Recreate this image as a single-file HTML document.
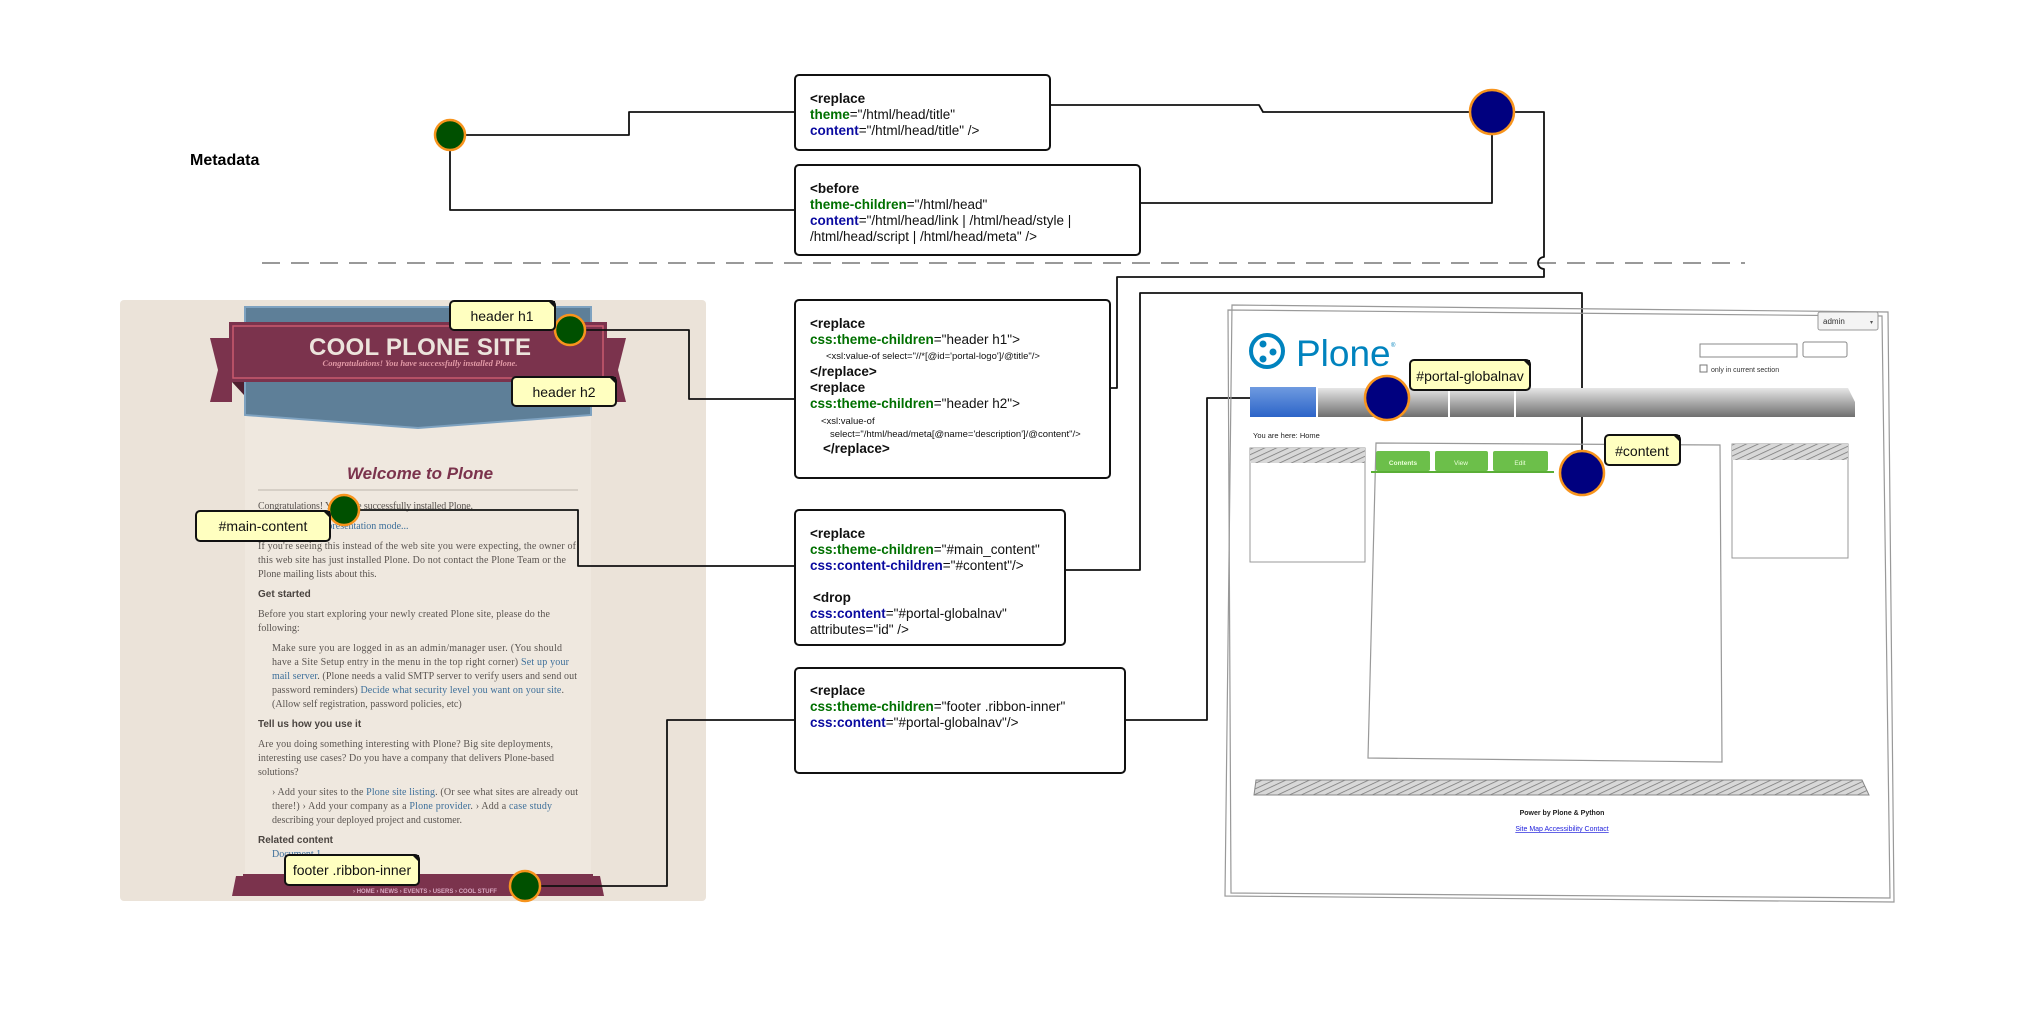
<!DOCTYPE html>
<html><head><meta charset="utf-8"><style>
html,body{margin:0;padding:0;background:#fff;}
svg{display:block;}
text{font-family:"Liberation Sans",Arial,sans-serif;}
.c{font-size:13.5px;fill:#111;}
.b{font-weight:bold;}
.g{fill:#007000;font-weight:bold;}
.u{fill:#0a0aa0;font-weight:bold;}
.s{font-size:9.5px;fill:#111;}
.bt{font-family:"Liberation Serif",serif;font-size:10px;fill:#5a5450;}
.bl{fill:#3d6f9a;}
.bh{font-family:"Liberation Sans",sans-serif;font-size:10px;font-weight:bold;fill:#4a4440;}
.lab{font-size:14px;fill:#111;}
.ln{fill:none;stroke:#111;stroke-width:1.8;stroke-linejoin:round;}
.sk{fill:none;stroke:#999;stroke-width:1.2;}
</style></head><body>
<svg width="2022" height="1014" viewBox="0 0 2022 1014" xmlns="http://www.w3.org/2000/svg">
<defs>
<pattern id="h" width="5" height="5" patternUnits="userSpaceOnUse" patternTransform="rotate(65)">
<rect width="5" height="5" fill="#d8d8d8"/><line x1="0" y1="0" x2="0" y2="5" stroke="#7a7a7a" stroke-width="1.6"/></pattern>
<linearGradient id="nav" x1="0" y1="0" x2="0" y2="1"><stop offset="0" stop-color="#e6e6e6"/><stop offset="1" stop-color="#6f6f6f"/></linearGradient>
<linearGradient id="blu" x1="0" y1="0" x2="0" y2="1"><stop offset="0" stop-color="#6f9be0"/><stop offset="1" stop-color="#2c64c8"/></linearGradient>
</defs>

<text x="190" y="165" class="b" font-size="16">Metadata</text>
<line x1="262" y1="263" x2="1745" y2="263" stroke="#999" stroke-width="2" stroke-dasharray="18,11"/>

<path class="ln" d="M466 135 H629 V112 H795"/>
<path class="ln" d="M450 150 V210 H795"/>
<path class="ln" d="M1050 105 H1259 L1263 112 H1469"/>
<path class="ln" d="M1140 203 H1492 V135"/>
<path class="ln" d="M1515 112 H1544 V257 A5 5 0 0 0 1544 269 V277 H1117 V388 H1110"/>

<rect x="795" y="75" width="255" height="75" rx="4" fill="#fff" stroke="#111" stroke-width="2"/>
<text class="c" x="810" y="103"><tspan class="b">&lt;replace</tspan></text>
<text class="c" x="810" y="119"><tspan class="g">theme</tspan>="/html/head/title"</text>
<text class="c" x="810" y="135"><tspan class="u">content</tspan>="/html/head/title" /&gt;</text>
<rect x="795" y="165" width="345" height="90" rx="4" fill="#fff" stroke="#111" stroke-width="2"/>
<text class="c" x="810" y="193"><tspan class="b">&lt;before</tspan></text>
<text class="c" x="810" y="209"><tspan class="g">theme-children</tspan>="/html/head"</text>
<text class="c" x="810" y="225"><tspan class="u">content</tspan>="/html/head/link | /html/head/style |</text>
<text class="c" x="810" y="241">/html/head/script | /html/head/meta" /&gt;</text>

<circle cx="1492" cy="112" r="22" fill="#00007f" stroke="#f7941d" stroke-width="2.5"/>
<circle cx="450" cy="135" r="15" fill="#005000" stroke="#f7941d" stroke-width="2.5"/>

<rect x="120" y="300" width="586" height="601" rx="4" fill="#ebe3d9"/>
<rect x="245" y="415" width="346" height="470" fill="#efe8df"/>
<polygon points="245,307 591,307 591,415 418,428 245,415" fill="#5e7f98" stroke="#7ea2c0" stroke-width="2"/>
<polygon points="210,338 232,338 232,402 210,402 218,370" fill="#7b334d"/>
<polygon points="626,338 604,338 604,402 626,402 618,370" fill="#7b334d"/>
<polygon points="232,382 244,395 244,382" fill="#4e1f30"/>
<polygon points="604,382 592,395 592,382" fill="#4e1f30"/>
<rect x="229" y="322" width="378" height="60" fill="#7b334d"/>
<rect x="233" y="326" width="370" height="52" fill="none" stroke="#c95a6e" stroke-width="1.5"/>
<text x="420" y="355" text-anchor="middle" font-size="24" font-weight="bold" fill="#ece4dc" textLength="222">COOL PLONE SITE</text>
<text x="420" y="366" text-anchor="middle" style="font-family:'Liberation Serif',serif;font-size:8.5px;font-style:italic;font-weight:bold" fill="#e29aa6">Congratulations! You have successfully installed Plone.</text>
<text x="420" y="479" text-anchor="middle" font-size="17" font-style="italic" font-weight="bold" fill="#7b334d">Welcome to Plone</text>
<line x1="258" y1="490" x2="578" y2="490" stroke="#d6cfc6" stroke-width="2"/>
<text class="bt" x="258" y="509" textLength="215">Congratulations! You have successfully installed Plone.</text>
<text class="bt bl" x="258" y="529">Click here to see presentation mode...</text>
<text class="bt" x="258" y="549" textLength="318">If you're seeing this instead of the web site you were expecting, the owner of</text>
<text class="bt" x="258" y="563" textLength="308">this web site has just installed Plone. Do not contact the Plone Team or the</text>
<text class="bt" x="258" y="577">Plone mailing lists about this.</text>
<text class="bh" x="258" y="597">Get started</text>
<text class="bt" x="258" y="617" textLength="292">Before you start exploring your newly created Plone site, please do the</text>
<text class="bt" x="258" y="631">following:</text>
<text class="bt" x="272" y="651" textLength="290">Make sure you are logged in as an admin/manager user. (You should</text>
<text class="bt" x="272" y="665" textLength="297">have a Site Setup entry in the menu in the top right corner) <tspan class="bl">Set up your</tspan></text>
<text class="bt" x="272" y="679" textLength="305"><tspan class="bl">mail server</tspan>. (Plone needs a valid SMTP server to verify users and send out</text>
<text class="bt" x="272" y="693" textLength="292">password reminders) <tspan class="bl">Decide what security level you want on your site</tspan>.</text>
<text class="bt" x="272" y="707">(Allow self registration, password policies, etc)</text>
<text class="bh" x="258" y="727">Tell us how you use it</text>
<text class="bt" x="258" y="747" textLength="295">Are you doing something interesting with Plone? Big site deployments,</text>
<text class="bt" x="258" y="761" textLength="296">interesting use cases? Do you have a company that delivers Plone-based</text>
<text class="bt" x="258" y="775">solutions?</text>
<text class="bt" x="272" y="795" textLength="306">› Add your sites to the <tspan class="bl">Plone site listing</tspan>. (Or see what sites are already out</text>
<text class="bt" x="272" y="809" textLength="280">there!) › Add your company as a <tspan class="bl">Plone provider</tspan>. › Add a <tspan class="bl">case study</tspan></text>
<text class="bt" x="272" y="823">describing your deployed project and customer.</text>
<text class="bh" x="258" y="843">Related content</text>
<text class="bt bl" x="272" y="857">Document 1</text>
<polygon points="236,876 600,876 604,896 232,896" fill="#7b334d"/>
<rect x="243" y="874" width="350" height="22" fill="#7b334d"/>
<text x="425" y="893" text-anchor="middle" font-size="6" font-weight="bold" fill="#d8a6c0">› HOME › NEWS › EVENTS › USERS › COOL STUFF</text>

<path class="ln" d="M585 330 H689 V399 H795"/>
<path class="ln" d="M359 510 H578 V566 H795"/>
<path class="ln" d="M540 886 H667 V720 H795"/>
<path class="ln" d="M1065 570 H1140 V293 H1582 V451"/>
<path class="ln" d="M1125 720 H1207 V398 H1365"/>

<rect x="795" y="300" width="315" height="178" rx="4" fill="#fff" stroke="#111" stroke-width="2"/>
<text class="c b" x="810" y="328">&lt;replace</text>
<text class="c" x="810" y="344"><tspan class="g">css:theme-children</tspan>="header h1"&gt;</text>
<text class="s" x="826" y="359">&lt;xsl:value-of select="//*[@id='portal-logo']/@title"/&gt;</text>
<text class="c b" x="810" y="376">&lt;/replace&gt;</text>
<text class="c b" x="810" y="392">&lt;replace</text>
<text class="c" x="810" y="408"><tspan class="g">css:theme-children</tspan>="header h2"&gt;</text>
<text class="s" x="821" y="424">&lt;xsl:value-of</text>
<text class="s" x="830" y="437">select="/html/head/meta[@name='description']/@content"/&gt;</text>
<text class="c b" x="823" y="453">&lt;/replace&gt;</text>
<rect x="795" y="510" width="270" height="135" rx="4" fill="#fff" stroke="#111" stroke-width="2"/>
<text class="c b" x="810" y="538">&lt;replace</text>
<text class="c" x="810" y="554"><tspan class="g">css:theme-children</tspan>="#main_content"</text>
<text class="c" x="810" y="570"><tspan class="u">css:content-children</tspan>="#content"/&gt;</text>
<text class="c b" x="813" y="602">&lt;drop</text>
<text class="c" x="810" y="618"><tspan class="u">css:content</tspan>="#portal-globalnav"</text>
<text class="c" x="810" y="634">attributes="id" /&gt;</text>
<rect x="795" y="668" width="330" height="105" rx="4" fill="#fff" stroke="#111" stroke-width="2"/>
<text class="c b" x="810" y="695">&lt;replace</text>
<text class="c" x="810" y="711"><tspan class="g">css:theme-children</tspan>="footer .ribbon-inner"</text>
<text class="c" x="810" y="727"><tspan class="u">css:content</tspan>="#portal-globalnav"/&gt;</text>

<path class="sk" d="M1232 305 L1888 312 L1894 902 L1225 896 Z"/>
<path class="sk" d="M1228 310 L1882 316 L1890 898 L1231 893 Z"/>
<circle cx="1267" cy="351" r="16" fill="none" stroke="#0083be" stroke-width="4"/>
<circle cx="1263" cy="344" r="3.5" fill="#0083be"/><circle cx="1273" cy="352" r="3.5" fill="#0083be"/><circle cx="1263" cy="359" r="3.5" fill="#0083be"/>
<text x="1296" y="366" font-size="37" fill="#0083be">Plone</text>
<text x="1391" y="347" font-size="6" fill="#0083be">®</text>
<rect x="1818" y="312" width="60" height="18" rx="2" fill="#f4f4f4" stroke="#999"/>
<text x="1823" y="324" font-size="8" fill="#333">admin</text>
<text x="1870" y="324" font-size="6" fill="#555">▾</text>
<rect x="1700" y="344" width="97" height="13" fill="#fff" stroke="#888"/>
<rect x="1803" y="342" width="44" height="15" rx="2" fill="#fff" stroke="#888"/>
<rect x="1700" y="365" width="7" height="7" fill="#fff" stroke="#777"/>
<text x="1711" y="372" font-size="7" fill="#333">only in current section</text>
<path d="M1250 388 H1848 L1855 402 V417 H1250 Z" fill="url(#nav)"/>
<rect x="1250" y="387" width="66" height="30" fill="url(#blu)"/>
<line x1="1317" y1="388" x2="1317" y2="417" stroke="#fff" stroke-width="2"/>
<line x1="1449" y1="388" x2="1449" y2="417" stroke="#fff" stroke-width="2"/>
<line x1="1515" y1="388" x2="1515" y2="417" stroke="#fff" stroke-width="2"/>
<text x="1253" y="438" font-size="7.5" fill="#222">You are here: Home</text>
<rect x="1250" y="448" width="115" height="114" fill="#fff" stroke="#999"/>
<rect x="1250" y="448" width="115" height="15" fill="url(#h)"/>
<path class="sk" d="M1376 443 L1720 445 L1722 762 L1368 758 Z"/>
<rect x="1376" y="451" width="54" height="20" rx="2" fill="#6cbf4a"/>
<rect x="1435" y="451" width="53" height="20" rx="2" fill="#6cbf4a"/>
<rect x="1493" y="451" width="55" height="20" rx="2" fill="#6cbf4a"/>
<line x1="1371" y1="472" x2="1554" y2="472" stroke="#5aae36" stroke-width="2"/>
<text x="1403" y="465" font-size="6.5" font-weight="bold" fill="#eaffd8" text-anchor="middle">Contents</text>
<text x="1461" y="465" font-size="6.5" fill="#eaffd8" text-anchor="middle">View</text>
<text x="1520" y="465" font-size="6.5" fill="#eaffd8" text-anchor="middle">Edit</text>
<rect x="1732" y="444" width="116" height="114" fill="#fff" stroke="#999"/>
<rect x="1732" y="444" width="116" height="16" fill="url(#h)"/>
<polygon points="1256,780 1862,780 1869,795 1254,795" fill="url(#h)" stroke="#888"/>
<text x="1562" y="815" font-size="7" font-weight="bold" fill="#222" text-anchor="middle">Power by Plone &amp; Python</text>
<text x="1562" y="831" font-size="7" fill="#2222dd" text-anchor="middle" text-decoration="underline">Site Map  Accessibility   Contact</text>

<circle cx="570" cy="330" r="15" fill="#005000" stroke="#f7941d" stroke-width="2.5"/>
<circle cx="344" cy="510" r="15" fill="#005000" stroke="#f7941d" stroke-width="2.5"/>
<circle cx="525" cy="886" r="15" fill="#005000" stroke="#f7941d" stroke-width="2.5"/>
<circle cx="1387" cy="398" r="22" fill="#00007f" stroke="#f7941d" stroke-width="2.5"/>
<circle cx="1582" cy="473" r="22" fill="#00007f" stroke="#f7941d" stroke-width="2.5"/>

<g>
<rect x="450" y="301" width="105" height="29" rx="4" fill="#ffffc0" stroke="#111" stroke-width="2"/><polygon points="548,301 555,301 555,308" fill="#111"/>
<text class="lab" x="502" y="321" text-anchor="middle">header h1</text>
<rect x="512" y="377" width="104" height="29" rx="4" fill="#ffffc0" stroke="#111" stroke-width="2"/><polygon points="609,377 616,377 616,384" fill="#111"/>
<text class="lab" x="564" y="397" text-anchor="middle">header h2</text>
<rect x="196" y="511" width="134" height="30" rx="4" fill="#ffffc0" stroke="#111" stroke-width="2"/><polygon points="323,511 330,511 330,518" fill="#111"/>
<text class="lab" x="263" y="531" text-anchor="middle">#main-content</text>
<rect x="285" y="855" width="134" height="30" rx="4" fill="#ffffc0" stroke="#111" stroke-width="2"/><polygon points="412,855 419,855 419,862" fill="#111"/>
<text class="lab" x="352" y="875" text-anchor="middle">footer .ribbon-inner</text>
<rect x="1410" y="360" width="120" height="30" rx="4" fill="#ffffc0" stroke="#111" stroke-width="2"/><polygon points="1523,360 1530,360 1530,367" fill="#111"/>
<text class="lab" x="1470" y="381" text-anchor="middle">#portal-globalnav</text>
<rect x="1605" y="435" width="75" height="30" rx="4" fill="#ffffc0" stroke="#111" stroke-width="2"/><polygon points="1673,435 1680,435 1680,442" fill="#111"/>
<text class="lab" x="1642" y="456" text-anchor="middle">#content</text>
</g>
</svg>
</body></html>
